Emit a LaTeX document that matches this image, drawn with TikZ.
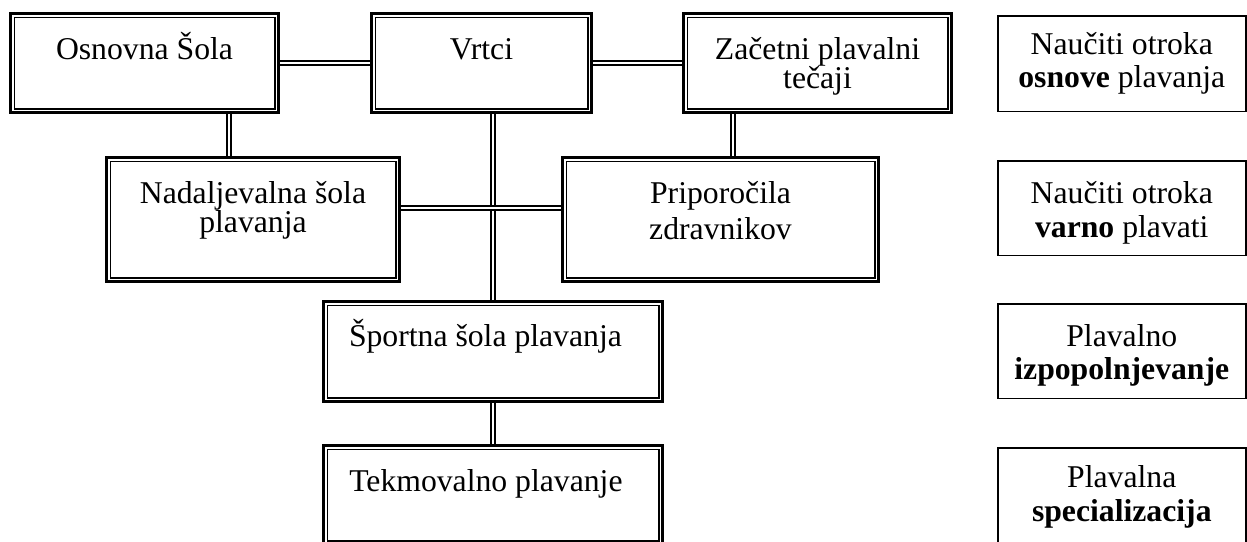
\documentclass[tikz,border=0pt]{standalone}
\usepackage{fontspec}
\setmainfont{Liberation Serif}
\usetikzlibrary{calc}
% #1 width, #2 height, #3 first-baseline offset, #4 line spacing, #5 text
\newcommand{\btext}[5]{\parbox[c][#2pt][t]{#1pt}{\fontsize{31.7pt}{#4pt}\selectfont\centering\rule{0pt}{#3pt}#5}}
% left-aligned: #1 width, #2 height, #3 first-baseline offset, #4 indent, #5 text
\newcommand{\ltext}[5]{\parbox[c][#2pt][t]{#1pt}{\fontsize{31.7pt}{38pt}\selectfont\raggedright\rule{0pt}{#3pt}\hspace*{#4pt}#5}}
\tikzset{
  dbox/.style={draw, rectangle, line width=1.5pt, inner sep=0pt, outer sep=5.25pt},
  dframe/.style={line width=3pt},
  sbox/.style={draw, rectangle, line width=1.5pt, inner sep=0pt, outer sep=0pt},
  conn/.style={double, double distance=2.4pt, line width=1.5pt}
}
\begin{document}
\begin{tikzpicture}[x=1pt, y=-1pt]
\useasboundingbox (0,0) rectangle (1247,541);
\clip (0,0) rectangle (1247,541);

% double-framed boxes
\node[dbox] (osn) at (144.5,63)  {\btext{260.5}{91.5}{41.75}{30}{Osnovna Šola}};
\node[dbox] (vrt) at (481.5,63)  {\btext{212.5}{91.5}{41.75}{30}{Vrtci}};
\node[dbox] (zac) at (817.5,63)  {\btext{260.5}{91.5}{41.75}{29.5}{Začetni plavalni\\tečaji}};
\node[dbox] (nad) at (253,219.5) {\btext{285.5}{116.5}{41.75}{28.5}{Nadaljevalna šola\\plavanja}};
\node[dbox] (pri) at (720.5,219.5) {\btext{308.5}{116.5}{41.75}{36}{Priporočila\\zdravnikov}};
\node[dbox] (spo) at (493,351.5) {\ltext{331.5}{92.5}{41.5}{21.75}{Športna šola plavanja}};
\node[dbox] (tek) at (493,495)   {\ltext{331.5}{91.5}{41.75}{22}{Tekmovalno plavanje}};

\foreach \n in {osn,vrt,zac,nad,pri,spo,tek}
  \draw[dframe] ($(\n.north west)+(1.5,1.5)$) rectangle ($(\n.south east)+(-1.5,-1.5)$);

% single-framed boxes on the right
\node[sbox] (r1) at (1121.8,63.5) {\btext{248}{95.5}{38.75}{32.5}{Naučiti otroka\\\textbf{osnove} plavanja}};
\node[sbox] (r2) at (1121.8,208)  {\btext{248}{94.5}{42.25}{34}{Naučiti otroka\\\textbf{varno} plavati}};
\node[sbox] (r3) at (1121.8,351)  {\btext{248}{94.5}{42.75}{33}{Plavalno\\\textbf{izpopolnjevanje}}};
\node[sbox] (r4) at (1121.8,495)  {\btext{248}{94.5}{39.25}{34.5}{Plavalna\\\textbf{specializacija}}};

% connectors
\draw[conn] (osn.east) -- (vrt.west);
\draw[conn] (vrt.east) -- (zac.west);
\draw[conn] ([xshift=84.5pt]osn.south) -- ([xshift=-24pt]nad.north);
\draw[conn] ([xshift=-84.5pt]zac.south) -- ([xshift=12.5pt]pri.north);
\draw[conn] ([xshift=11.5pt]vrt.south) -- (spo.north);
\draw[conn] ([yshift=11.5pt]nad.east) -- ([yshift=11.5pt]pri.west);
\draw[conn] (spo.south) -- (tek.north);
\end{tikzpicture}
\end{document}
